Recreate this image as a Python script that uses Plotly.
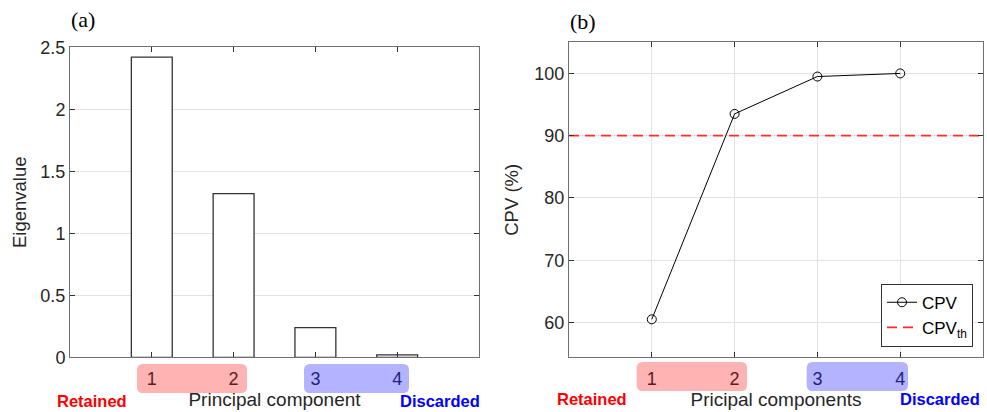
import plotly.graph_objects as go

# Principal components and their eigenvalues
components = [1, 2, 3, 4]
component_labels = ["1", "2", "3", "4"]
eigenvalues = [2.42, 1.32, 0.24, 0.02]

# Cumulative percent variance (%) and threshold
cpv = [60.5, 93.5, 99.5, 100.0]
cpv_threshold = 90
threshold_span = [0, 5]

W, H = 987, 412
FONT = "Liberation Sans, Arial, sans-serif"
SERIF = "Liberation Serif, Times New Roman, serif"
TXT = "#262626"
AX = "#707070"
GRID = "#e3e3e3"


def px_x(p):
    return p / W


def px_y(p):
    return 1 - p / H


fig = go.Figure()

fig.add_trace(go.Bar(
    x=components, y=eigenvalues, width=0.5,
    marker=dict(color="white", line=dict(color="#333333", width=1.3)),
    name="Eigenvalue", xaxis="x", yaxis="y", legend="legend",
))

fig.add_trace(go.Scatter(
    x=components, y=cpv, mode="lines+markers", name="CPV",
    line=dict(color="black", width=1),
    marker=dict(symbol="circle-open", size=9, color="black", line=dict(width=1)),
    xaxis="x2", yaxis="y2", legend="legend2",
))
fig.add_trace(go.Scatter(
    x=threshold_span, y=[cpv_threshold] * 2, mode="lines", name="CPV<sub>th</sub>",
    line=dict(color="#ff2a2a", width=1.8, dash="10px,6px"),
    xaxis="x2", yaxis="y2", legend="legend2",
))

red_c, blue_c = "#5c1c1c", "#22227a"
tick_text = [f"<span style='color:{red_c}'>{component_labels[0]}</span>",
             f"<span style='color:{red_c}'>{component_labels[1]}</span>",
             f"<span style='color:{blue_c}'>{component_labels[2]}</span>",
             f"<span style='color:{blue_c}'>{component_labels[3]}</span>"]

common_axis = dict(
    showline=True, linecolor=AX, linewidth=1, mirror="ticks",
    ticks="inside", ticklen=5, tickcolor="#333333",
    tickfont=dict(family=FONT, size=18, color=TXT),
    zeroline=False, automargin=False,
)

fig.update_layout(
    width=W, height=H,
    margin=dict(l=0, r=0, t=0, b=0, pad=0, autoexpand=False),
    paper_bgcolor="white", plot_bgcolor="white",
    font=dict(family=FONT, color=TXT),
    xaxis=dict(domain=[px_x(70), px_x(479)], range=[0, 5], anchor="y",
               tickvals=components, ticktext=tick_text, showgrid=False,
               ticklabelstandoff=5,
               title=dict(text="Principal component", font=dict(size=19, color=TXT), standoff=4),
               **common_axis),
    yaxis=dict(domain=[px_y(357.3), px_y(47.3)], range=[0, 2.5], anchor="x",
               tickvals=[0, 0.5, 1, 1.5, 2, 2.5], ticktext=["0", "0.5", "1", "1.5", "2", "2.5"],
               showgrid=True, gridcolor=GRID, gridwidth=1,
               title=dict(text="Eigenvalue", font=dict(size=18.5, color=TXT), standoff=8),
               **common_axis),
    xaxis2=dict(domain=[px_x(569), px_x(983)], range=[0, 5], anchor="y2",
                tickvals=components, ticktext=tick_text, showgrid=True, gridcolor=GRID,
                ticklabelstandoff=5,
                title=dict(text="Pricipal components", font=dict(size=19, color=TXT), standoff=4),
                **common_axis),
    yaxis2=dict(domain=[px_y(357.3), px_y(42.3)], range=[54.4, 105], anchor="x2",
                tickvals=[60, 70, 80, 90, 100],
                showgrid=True, gridcolor=GRID, gridwidth=1,
                title=dict(text="CPV (%)", font=dict(size=18.5, color=TXT), standoff=10),
                **common_axis),
    legend=dict(x=px_x(469), y=px_y(57), xanchor="right", yanchor="top",
                bgcolor="white", bordercolor="#333333", borderwidth=1,
                font=dict(family=FONT, size=17, color="black"),
                itemwidth=30, tracegroupgap=0),
    legend2=dict(x=px_x(973), y=px_y(346.7), xanchor="right", yanchor="bottom",
                 bgcolor="white", bordercolor="#333333", borderwidth=1,
                 font=dict(family=FONT, size=17, color="black"),
                 tracegroupgap=0),
)


def rounded_box(x0, x1, y0, y1, color, r=6):
    # rounded rectangle in paper coordinates (pixel inputs)
    rx, ry = r / W, r / H
    X0, X1 = px_x(x0), px_x(x1)
    Y0, Y1 = px_y(y1), px_y(y0)  # bottom, top
    path = (f"M {X0+rx},{Y1} L {X1-rx},{Y1} Q {X1},{Y1} {X1},{Y1-ry} "
            f"L {X1},{Y0+ry} Q {X1},{Y0} {X1-rx},{Y0} L {X0+rx},{Y0} "
            f"Q {X0},{Y0} {X0},{Y0+ry} L {X0},{Y1-ry} Q {X0},{Y1} {X0+rx},{Y1} Z")
    return dict(type="path", path=path, xref="paper", yref="paper",
                fillcolor=color, line=dict(width=0), layer="below")


RED_BOX = "#ffb3b3"
BLUE_BOX = "#b3b3ff"
fig.update_layout(shapes=[
    rounded_box(137, 247, 364, 393, RED_BOX),
    rounded_box(304, 409, 364, 393, BLUE_BOX),
    rounded_box(636.7, 747, 362, 391, RED_BOX),
    rounded_box(806.7, 908, 362, 391, BLUE_BOX),
])

annotations = [
    dict(text="Retained", x=px_x(92), y=px_y(401), font=dict(size=16.5, color="#ff0000", family=FONT, weight="bold")),
    dict(text="Discarded", x=px_x(440), y=px_y(401), font=dict(size=16.5, color="#0000ff", family=FONT, weight="bold")),
    dict(text="Retained", x=px_x(592), y=px_y(399), font=dict(size=16.5, color="#ff0000", family=FONT, weight="bold")),
    dict(text="Discarded", x=px_x(940), y=px_y(399), font=dict(size=16.5, color="#0000ff", family=FONT, weight="bold")),
    dict(text="(a)", x=px_x(69), y=px_y(20), xanchor="left", font=dict(size=22, color="black", family=SERIF)),
    dict(text="(b)", x=px_x(568), y=px_y(22), xanchor="left", font=dict(size=22, color="black", family=SERIF)),
]
for a in annotations:
    a.update(xref="paper", yref="paper", showarrow=False)
    a.setdefault("xanchor", "center")
    a.setdefault("yanchor", "middle")
fig.update_layout(annotations=annotations)

fig.write_html("out.html")
